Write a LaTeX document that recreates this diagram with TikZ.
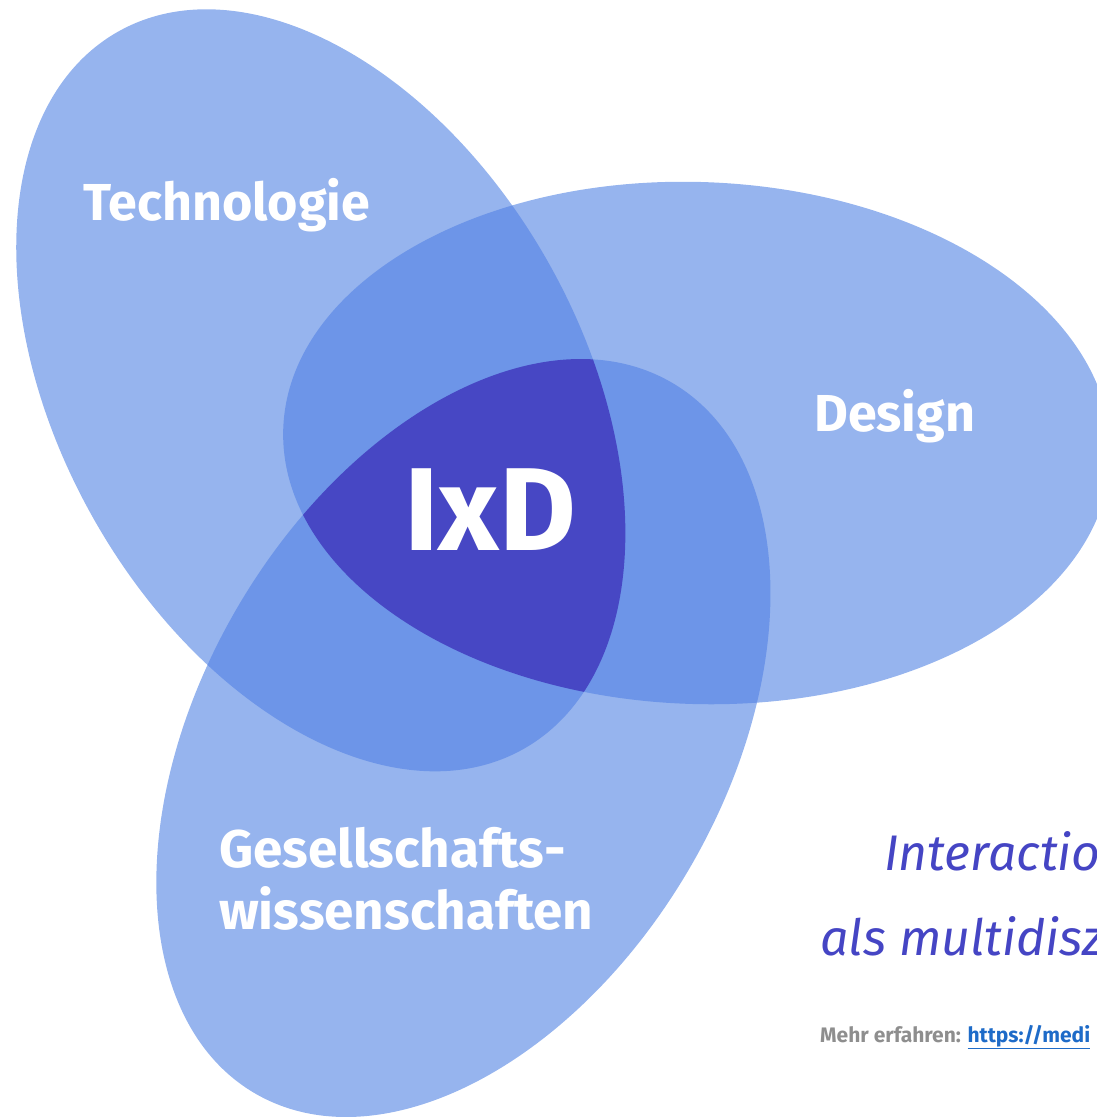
\documentclass[tikz,border=0pt]{standalone}
\usepackage{fontspec}
\setmainfont{Fira Sans}
\usetikzlibrary{positioning}

\definecolor{ovallight}{HTML}{96B4EE}
\definecolor{ovalmid}{HTML}{6D95E8}
\definecolor{ovaldark}{HTML}{4747C4}
\definecolor{titleblue}{HTML}{4545C4}
\definecolor{notegrey}{HTML}{8E8E8E}
\definecolor{linkblue}{HTML}{1E6BC8}

\tikzset{
  techoval/.style={shift={(320.8,390.3)}, rotate=-60.5},
  designoval/.style={shift={(697,443)}, rotate=-2},
  socialoval/.style={shift={(463.4,738)}, rotate=59.5},
  fieldtext/.style={anchor=base west, inner sep=0pt, text=white,
    font=\bfseries\fontsize{52}{60}\selectfont},
  titletext/.style={anchor=base west, inner sep=0pt, text=titleblue,
    font=\itshape\fontsize{50}{60}\selectfont},
  notetext/.style={anchor=base west, inner sep=0pt, text=notegrey,
    font=\bfseries\fontsize{21}{25}\selectfont},
}

\begin{document}
\begin{tikzpicture}[x=1pt, y=-1pt]
\useasboundingbox (0,0) rectangle (1097,1120);

% the three fields
\fill[ovallight, techoval] (0,0) ellipse [x radius=412pt, y radius=261pt];
\fill[ovallight, designoval] (0,0) ellipse [x radius=414pt, y radius=261pt];
\fill[ovallight, socialoval] (0,0) ellipse [x radius=412pt, y radius=261pt];

% overlaps of two fields
\begin{scope}
  \clip[techoval] (0,0) ellipse [x radius=412pt, y radius=261pt];
  \fill[ovalmid, designoval] (0,0) ellipse [x radius=414pt, y radius=261pt];
  \fill[ovalmid, socialoval] (0,0) ellipse [x radius=412pt, y radius=261pt];
\end{scope}
\begin{scope}
  \clip[designoval] (0,0) ellipse [x radius=414pt, y radius=261pt];
  \fill[ovalmid, socialoval] (0,0) ellipse [x radius=412pt, y radius=261pt];
\end{scope}

% common core
\begin{scope}
  \clip[techoval] (0,0) ellipse [x radius=412pt, y radius=261pt];
  \clip[designoval] (0,0) ellipse [x radius=414pt, y radius=261pt];
  \fill[ovaldark, socialoval] (0,0) ellipse [x radius=412pt, y radius=261pt];
\end{scope}

\node[fieldtext] (tech) at (83,220) {Technologie};
\node[fieldtext] (design) at (814,431) {Design};
\node[fieldtext, font=\bfseries\fontsize{118}{124}\selectfont] (ixd) at (404,550) {IxD};
\node[fieldtext, font=\bfseries\fontsize{53}{60}\selectfont] (gesell) at (219,867) {Gesellschafts-};
\node[fieldtext, font=\bfseries\fontsize{53}{60}\selectfont] (wissen) at (219,929) {wissenschaften};

\node[titletext] (headA) at (884,870) {Interaction};
\node[titletext] (headB) at (820,955) {als multidiszi};
\node[notetext] (more) at (820,1042) {Mehr erfahren: \textcolor{linkblue}{\underline{https://medi}}};
\end{tikzpicture}
\end{document}
